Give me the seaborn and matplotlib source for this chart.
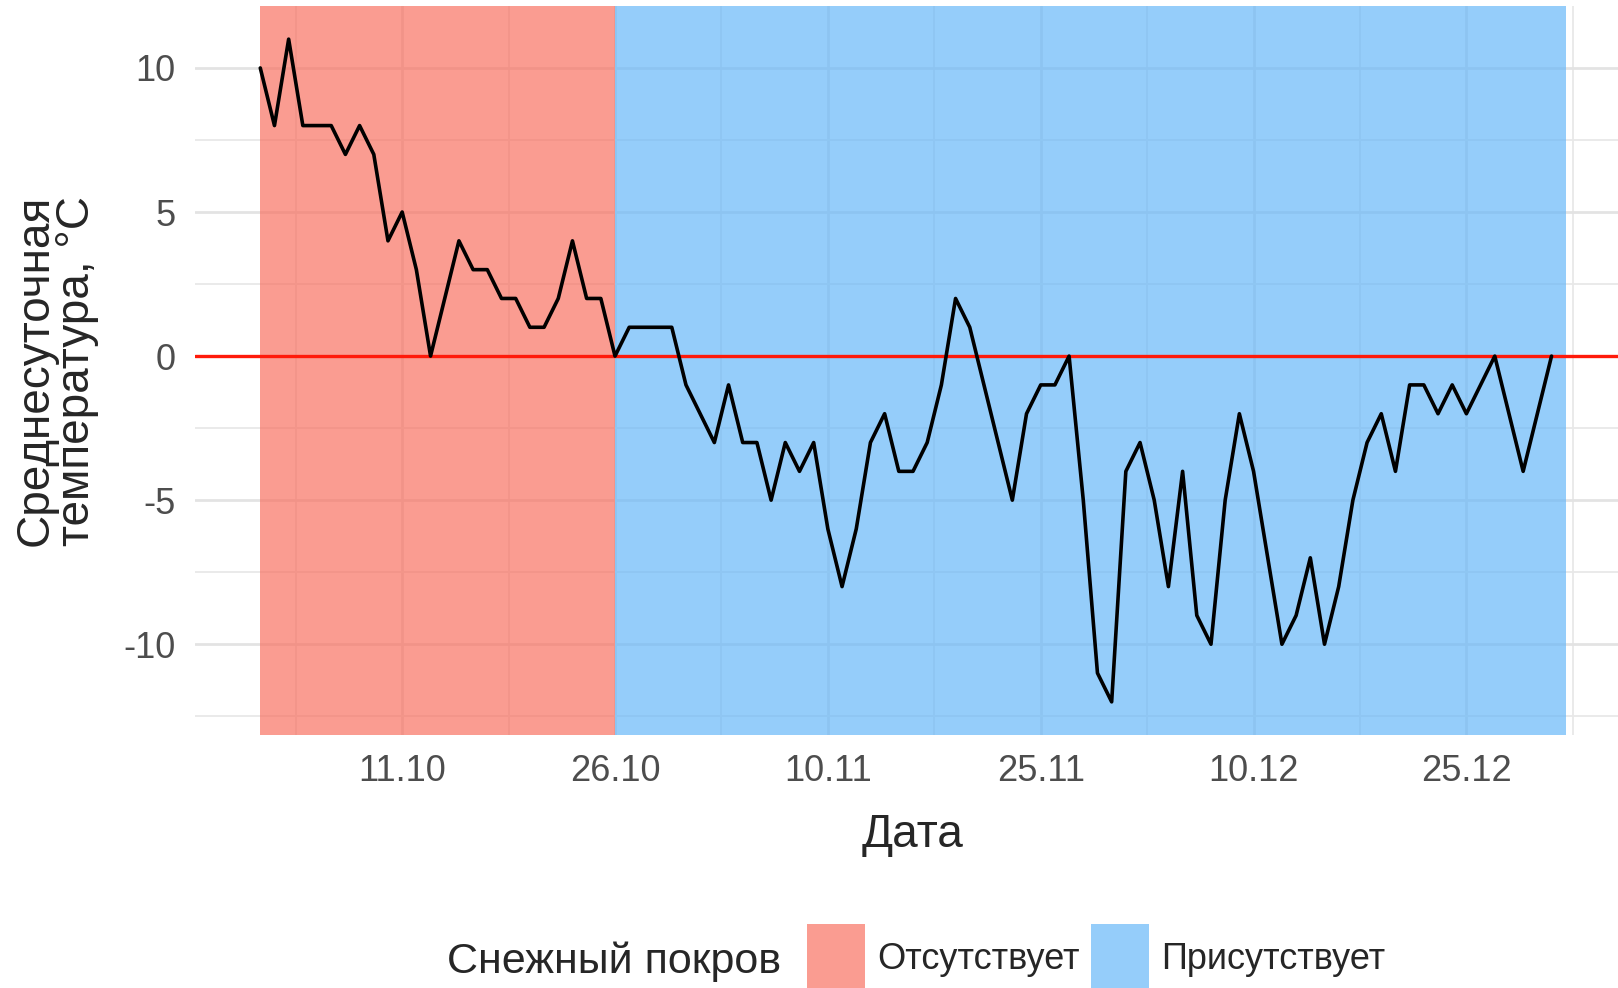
import numpy as np
import pandas as pd
import matplotlib
matplotlib.use("Agg")
import matplotlib.pyplot as plt
from matplotlib.patches import Patch
import seaborn as sns

# ------------------------------------------------------------
# DATA
# ------------------------------------------------------------
start_date = "2021-10-01"
temp_oct = [10, 8, 11, 8, 8, 8, 7, 8, 7, 4, 5, 3, 0, 2, 4, 3, 3, 2, 2, 1,
            1, 2, 4, 2, 2, 0, 1, 1, 1, 1, -1]
temp_nov = [-2, -3, -1, -3, -3, -5, -3, -4, -3, -6, -8, -6, -3, -2, -4, -4, -3, -1, 2, 1,
            -1, -3, -5, -2, -1, -1, 0, -5, -11, -12]
temp_dec = [-4, -3, -5, -8, -4, -9, -10, -5, -2, -4, -7, -10, -9, -7, -10, -8, -5, -3, -2, -4,
            -1, -1, -2, -1, -2, -1, 0, -2, -4, -2, 0]
snow_first_day = "2021-10-26"
snow_labels = ["Отсутствует", "Присутствует"]
snow_colors = {"Отсутствует": "#F87262", "Присутствует": "#69B8F8"}
x_tick_labels = ["11.10", "26.10", "10.11", "25.11", "10.12", "25.12"]
y_ticks = [-10, -5, 0, 5, 10]

temps = temp_oct + temp_nov + temp_dec
df = pd.DataFrame({
    "date": pd.date_range(start_date, periods=len(temps), freq="D"),
    "temp": temps,
})
df["snow"] = np.where(df["date"] >= pd.Timestamp(snow_first_day), snow_labels[1], snow_labels[0])

# ------------------------------------------------------------
# STYLE
# ------------------------------------------------------------
sns.set_style("white")
plt.rcParams["font.family"] = ["Liberation Sans", "DejaVu Sans"]

fig = plt.figure(figsize=(16.18, 9.88), dpi=100)
ax = fig.add_axes([195 / 1618, 1 - 735 / 988, 1436 / 1618, (735 - 6) / 988])

# background spans, one per run of equal snow status (each day covers date..date+1)
one_day = pd.Timedelta(days=1)
alpha_bg = 0.7
run_id = (df["snow"] != df["snow"].shift()).cumsum()
for _, run in df.groupby(run_id):
    ax.axvspan(run["date"].min(), run["date"].max() + one_day,
               color=snow_colors[run["snow"].iloc[0]], alpha=alpha_bg, lw=0, zorder=1)

ax.axhline(0, color="#FF1A0A", lw=2.4, zorder=2)
sns.lineplot(data=df, x="date", y="temp", color="black", lw=2.6, ax=ax, zorder=3)

# ------------------------------------------------------------
# AXES
# ------------------------------------------------------------
x0 = df["date"].min()
x1 = df["date"].max() + one_day
pad = (x1 - x0) * 0.05
ax.set_xlim(x0 - pad, x1 + pad)
ax.set_ylim(-13.15, 12.15)

major_dates = [pd.Timestamp(f"2021-{s[3:]}-{s[:2]}") for s in x_tick_labels]
half = pd.Timedelta(days=7.5)
minor_dates = [d - half for d in major_dates] + [major_dates[-1] + half]
ax.set_xticks(major_dates)
ax.set_xticklabels(x_tick_labels)
ax.set_xticks(minor_dates, minor=True)
ax.set_yticks(y_ticks)
ax.set_yticklabels([str(v) for v in y_ticks])
ax.set_yticks([v + 2.5 for v in y_ticks[:-1]] + [-12.5], minor=True)

ax.grid(which="major", color="#E3E3E3", lw=2.0)
ax.grid(which="minor", color="#E8E8E8", lw=1.3)
ax.set_axisbelow(True)
for s in ax.spines.values():
    s.set_visible(False)
ax.tick_params(which="both", length=0, labelsize=26, labelcolor="#4D4D4D")
ax.tick_params(axis="x", pad=14)
ax.tick_params(axis="y", pad=14)

ax.set_xlabel("Дата", fontsize=33, labelpad=17)
ax.set_ylabel("Среднесуточная\nтемпература, °С", fontsize=33, linespacing=0.92)
ax.yaxis.set_label_coords(-0.067, 0.5)

# ------------------------------------------------------------
# LEGEND
# ------------------------------------------------------------
handles = [Patch(facecolor=snow_colors[k], alpha=alpha_bg, lw=0, label=k) for k in snow_labels]
fig.legend(handles=handles, loc="upper left", bbox_to_anchor=(807 / 1618, 1 - 924 / 988),
           ncol=2, frameon=False, fontsize=26, handlelength=1.6, handleheight=2.5,
           handletextpad=0.35, columnspacing=0.3, borderpad=0, borderaxespad=0)
fig.text(447 / 1618, 1 - 962 / 988, "Снежный покров", fontsize=31, va="center")

fig.savefig("out.png", dpi=100)
